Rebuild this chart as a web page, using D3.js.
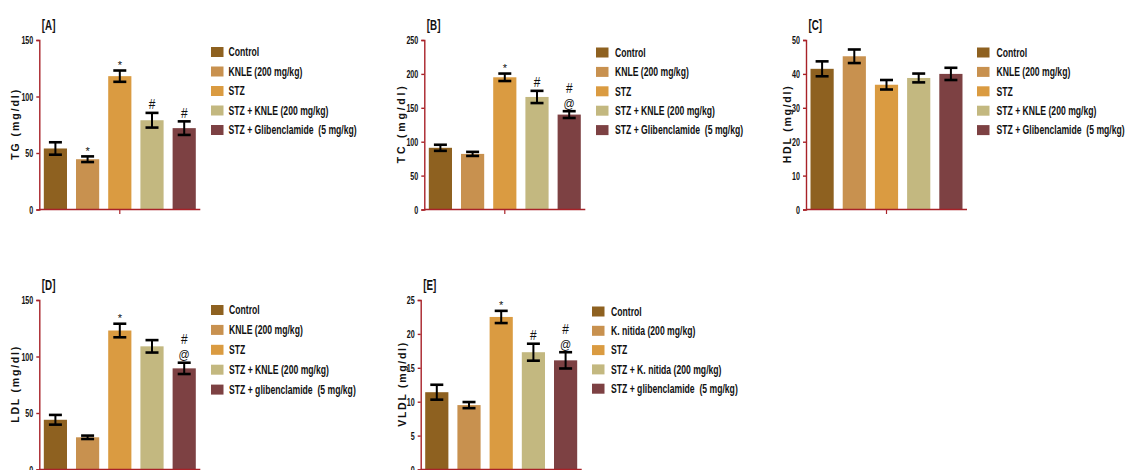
<!DOCTYPE html>
<html>
<head>
<meta charset="utf-8">
<script src="https://cdn.jsdelivr.net/npm/d3@7"></script>
<style>
  html, body { margin: 0; padding: 0; background: #fff; }
  svg { display: block; }
  text { font-family: "Liberation Sans", Arial, sans-serif; }
</style>
</head>
<body>
<svg id="chart" width="1127" height="470"></svg>
<script>
// Treatment groups (legend text per panel)
const groupsABC = ["Control", "KNLE (200 mg/kg)", "STZ", "STZ + KNLE (200 mg/kg)", "STZ + Glibenclamide  (5 mg/kg)"];
const groupsD = ["Control", "KNLE (200 mg/kg)", "STZ", "STZ + KNLE (200 mg/kg)", "STZ + glibenclamide  (5 mg/kg)"];
const groupsE = ["Control", "K. nitida (200 mg/kg)", "STZ", "STZ + K. nitida (200 mg/kg)", "STZ + glibenclamide  (5 mg/kg)"];
const groupColors = ["#8e6120", "#c8914f", "#da9b41", "#c3b880", "#7d4143"];

// Lipid profile: mean and SEM (mg/dl)
const tgMean = [54, 44.5, 118, 79, 72];
const tgSem = [5.5, 2.5, 5, 6.5, 6];
const tcMean = [91, 82, 195, 166, 140];
const tcSem = [4.5, 3, 5.5, 9, 5];
const hdlMean = [41.5, 45.2, 36.8, 38.8, 40];
const hdlSem = [2.2, 2, 1.4, 1.3, 1.8];
const ldlMean = [44, 28.5, 123, 109, 89.5];
const ldlSem = [4.3, 1.5, 6, 5.5, 5];
const vldlMean = [11.4, 9.5, 22.5, 17.3, 16.1];
const vldlSem = [1.1, 0.45, 0.9, 1.25, 1.2];

// Significance marks, stacked top to bottom
const tgMarks = ["", "*", "*", "#", "#"];
const tcMarks = ["", "", "*", "#", "#@"];
const hdlMarks = ["", "", "", "", ""];
const ldlMarks = ["", "", "*", "", "#@"];
const vldlMarks = ["", "", "*", "#", "#@"];

// Axis ticks
const tgTicks = [0, 50, 100, 150];
const tcTicks = [0, 50, 100, 150, 200, 250];
const hdlTicks = [0, 10, 20, 30, 40, 50];
const ldlTicks = [0, 50, 100, 150];
const vldlTicks = [0, 5, 10, 15, 20, 25];

const panels = [
  { tag: "[A]", title: "TG  (mg/dl)", titleLen: 70, ax: 39.3, top: 40, mean: tgMean, sem: tgSem, marks: tgMarks, ticks: tgTicks, titleOff: 20, names: groupsABC, lgSw: 211, lgTx: 228.5, lgY: 52, lgStep: 19.5 },
  { tag: "[B]", title: "TC (mg/dl)", titleLen: 77, ax: 424.3, top: 40, mean: tcMean, sem: tcSem, marks: tcMarks, ticks: tcTicks, titleOff: 19.5, names: groupsABC, lgSw: 596, lgTx: 615, lgY: 52.5, lgStep: 19.4 },
  { tag: "[C]", title: "HDL (mg/dl)", titleLen: 77, ax: 806, top: 40, mean: hdlMean, sem: hdlSem, marks: hdlMarks, ticks: hdlTicks, titleOff: 15.5, names: groupsABC, lgSw: 977, lgTx: 996.5, lgY: 52.5, lgStep: 19.4 },
  { tag: "[D]", title: "LDL (mg/dl)", titleLen: 76, ax: 39.3, top: 300, mean: ldlMean, sem: ldlSem, marks: ldlMarks, ticks: ldlTicks, titleOff: 20, names: groupsD, lgSw: 211, lgTx: 229, lgY: 310, lgStep: 19.9 },
  { tag: "[E]", title: "VLDL (mg/dl)", titleLen: 84, ax: 420.7, top: 300, mean: vldlMean, sem: vldlSem, marks: vldlMarks, ticks: vldlTicks, titleOff: 15, names: groupsE, lgSw: 592, lgTx: 611, lgY: 311.5, lgStep: 19.3 }
];

const svg = d3.select("#chart");
const axisColor = "#a82228";
const plotW = 161, plotH = 169.5;

// Condensed lettering: horizontally squeeze regular text about its anchor point
function condensed(sel, x, y, sx) {
  sel.attr("x", 0).attr("y", 0)
    .attr("transform", (d, i) => {
      const xx = typeof x === "function" ? x(d, i) : x;
      const yy = typeof y === "function" ? y(d, i) : y;
      return `translate(${xx},${yy}) scale(${sx},1)`;
    });
  return sel;
}

panels.forEach(p => {
  const g = svg.append("g");
  const x = d3.scaleBand().domain(d3.range(5)).range([p.ax, p.ax + plotW]).paddingInner(0.28).paddingOuter(0.14);
  const y = d3.scaleLinear().domain([0, d3.max(p.ticks)]).range([p.top + plotH, p.top]);

  // bars
  g.selectAll("rect.bar").data(p.mean).join("rect")
    .attr("class", "bar")
    .attr("x", (d, i) => x(i))
    .attr("width", x.bandwidth())
    .attr("y", d => y(d))
    .attr("height", d => y(0) - y(d))
    .attr("fill", (d, i) => groupColors[i]);

  // error bars
  const eb = g.selectAll("g.err").data(p.mean).join("g").attr("class", "err");
  eb.append("line")
    .attr("x1", (d, i) => x(i) + x.bandwidth() / 2).attr("x2", (d, i) => x(i) + x.bandwidth() / 2)
    .attr("y1", (d, i) => y(d + p.sem[i])).attr("y2", (d, i) => y(d - p.sem[i]))
    .attr("stroke", "#000").attr("stroke-width", 2);
  [1, -1].forEach(s => {
    eb.append("line")
      .attr("x1", (d, i) => x(i) + x.bandwidth() / 2 - 6.5).attr("x2", (d, i) => x(i) + x.bandwidth() / 2 + 6.5)
      .attr("y1", (d, i) => y(d + s * p.sem[i])).attr("y2", (d, i) => y(d + s * p.sem[i]))
      .attr("stroke", "#000").attr("stroke-width", 2.6);
  });

  // significance marks
  p.mean.forEach((d, i) => {
    const chars = p.marks[i].split("");
    const topY = y(d + p.sem[i]);
    chars.slice().reverse().forEach((c, k) => {
      const t = g.append("text")
        .attr("text-anchor", "middle")
        .attr("font-size", c === "*" ? 11 : (c === "@" ? 13 : 14))
        .attr("fill", "#111")
        .text(c);
      condensed(t, x(i) + x.bandwidth() / 2, c === "*" ? topY - 1.5 : topY - 3.5 - k * 15, c === "*" ? 1 : 0.85);
    });
  });

  // y axis
  const yAxis = d3.axisLeft(y).tickValues(p.ticks).tickSize(3).tickPadding(3).tickFormat(d3.format("d"));
  const ya = g.append("g").attr("transform", `translate(${p.ax},0)`).call(yAxis);
  ya.select(".domain").attr("stroke", axisColor).attr("stroke-width", 1.4);
  ya.selectAll(".tick line").attr("stroke", axisColor).attr("stroke-width", 1.4);
  ya.selectAll(".tick text")
    .attr("font-size", 10.5).attr("font-weight", "bold").attr("fill", "#111")
    .attr("dy", null)
    .call(s => condensed(s, -6, 3.8, 0.68));

  // x axis with single centre tick
  const xa = g.append("g");
  xa.append("line").attr("x1", p.ax).attr("x2", p.ax + plotW).attr("y1", y(0)).attr("y2", y(0))
    .attr("stroke", axisColor).attr("stroke-width", 1.6);
  xa.append("line").attr("x1", p.ax + plotW / 2).attr("x2", p.ax + plotW / 2).attr("y1", y(0)).attr("y2", y(0) + 4.5)
    .attr("stroke", axisColor).attr("stroke-width", 1.2);

  // axis title
  const cy = p.top + plotH / 2;
  g.append("text")
    .attr("transform", `translate(${p.ax - p.titleOff},${cy}) rotate(-90)`)
    .attr("text-anchor", "middle")
    .attr("font-weight", "bold").attr("font-size", 10.5)
    .attr("textLength", p.titleLen).attr("lengthAdjust", "spacing")
    .attr("fill", "#111")
    .text(p.title);

  // panel tag
  const tag = g.append("text")
    .attr("font-size", 14).attr("font-weight", "bold").attr("fill", "#111")
    .text(p.tag);
  condensed(tag, p.ax + 2.5, p.top - 10, 0.7);

  // legend
  const lg = g.selectAll("g.lg").data(p.names).join("g").attr("class", "lg")
    .attr("transform", (d, i) => `translate(0,${p.lgY + i * p.lgStep})`);
  lg.append("rect").attr("x", p.lgSw).attr("y", -5).attr("width", 12.5).attr("height", 10)
    .attr("fill", (d, i) => groupColors[i]);
  lg.append("text")
    .attr("font-size", 12).attr("font-weight", "bold").attr("fill", "#111")
    .style("white-space", "pre")
    .text(d => d)
    .call(s => condensed(s, p.lgTx, 4.3, 0.72));
});
</script>
</body>
</html>
